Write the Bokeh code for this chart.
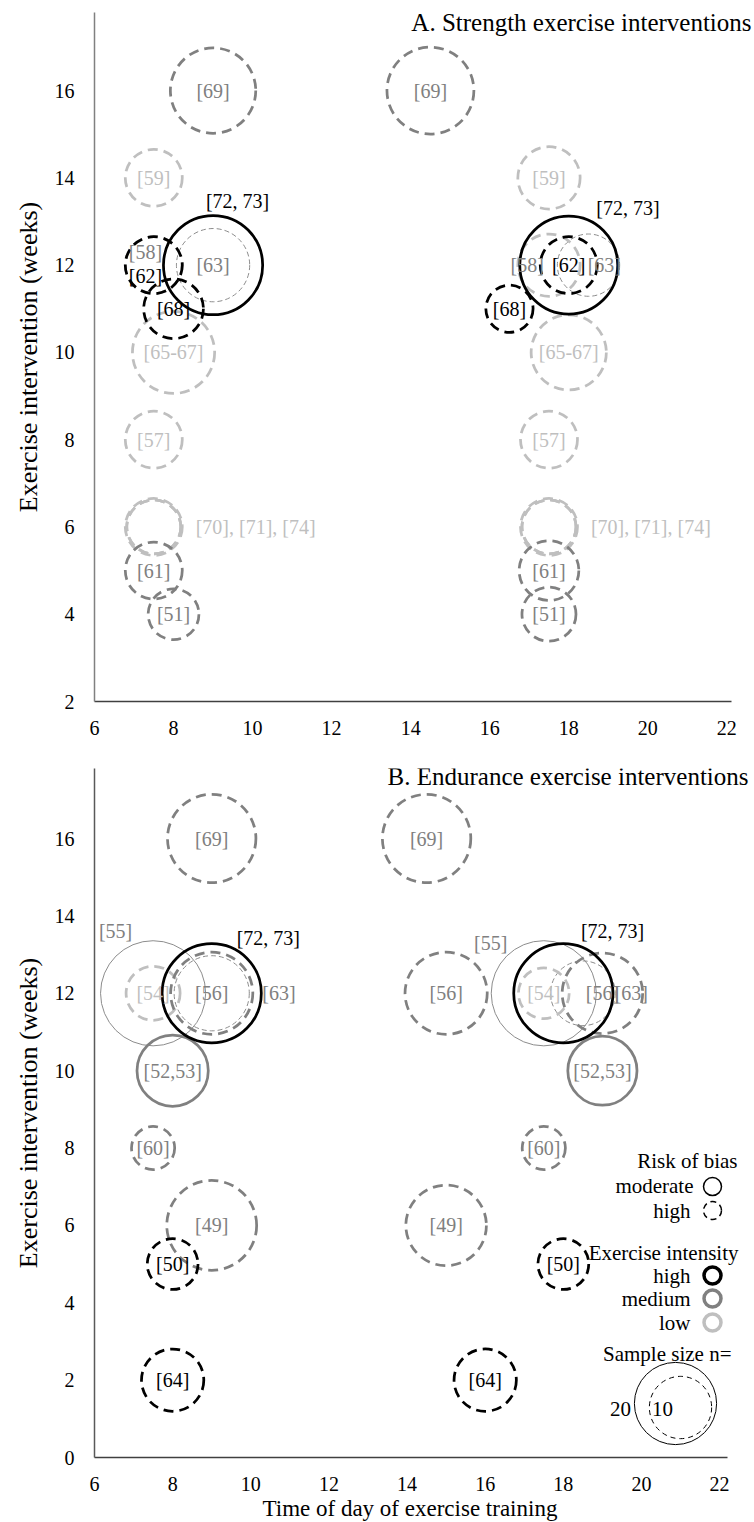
from bokeh.plotting import figure
from bokeh.models import ColumnDataSource, FixedTicker, Label, Range1d, Title
from bokeh.layouts import column
from bokeh.embed import file_html
from bokeh.resources import INLINE
from bokeh.core.properties import value

FONT = "Liberation Serif, Times New Roman, Tinos, serif"

# ---------------- data ----------------
X_TICKS = [6, 8, 10, 12, 14, 16, 18, 20, 22]
A_Y_TICKS = [2, 4, 6, 8, 10, 12, 14, 16]
B_Y_TICKS = [0, 2, 4, 6, 8, 10, 12, 14, 16]

# Panel A: strength exercise interventions (one entry per group)
A_ref = ["[69]", "[69]", "[59]", "[59]", "[58]", "[58]", "[62]", "[62]",
         "[63]", "[63]", "[72, 73]", "[72, 73]", "[68]", "[68]",
         "[65-67]", "[65-67]", "[57]", "[57]",
         "[70]", "[71]", "[74]", "[70]", "[71]", "[74]",
         "[61]", "[61]", "[51]", "[51]"]
A_time = [9, 14.5, 7.5, 17.5, 7.5, 17.5, 7.5, 18,
          9, 18.5, 9, 18, 8, 16.5,
          8, 18, 7.5, 17.5,
          7.5, 7.5, 7.5, 17.5, 17.5, 17.5,
          7.5, 17.5, 8, 17.5]
A_weeks = [16, 16, 14, 14, 12, 12, 12, 12,
           12, 12, 12, 12, 11, 11,
           10, 10, 8, 8,
           6, 6, 6, 6, 6, 6,
           5, 5, 4, 4]
A_n = [22, 23, 8, 10, 8, 10, 8, 8,
       15, 10, 32, 31, 9, 5,
       20, 16, 8, 8,
       7, 8, 7, 7, 8, 7,
       8, 9, 6, 7]
A_intensity = ["medium", "medium", "low", "low", "low", "low", "high", "high",
               "unknown", "unknown", "high", "high", "high", "high",
               "low", "low", "low", "low",
               "low", "low", "low", "low", "low", "low",
               "medium", "medium", "medium", "medium"]
A_bias = ["high", "high", "high", "high", "high", "high", "high", "high",
          "high", "high", "moderate", "moderate", "high", "high",
          "high", "high", "high", "high",
          "high", "high", "high", "high", "high", "high",
          "high", "high", "high", "high"]

A_lab_text = ["[69]", "[69]", "[59]", "[59]", "[72, 73]", "[72, 73]",
              "[58]", "[62]", "[63]", "[58]", "[62]", "[63]",
              "[68]", "[68]", "[65-67]", "[65-67]", "[57]", "[57]",
              "[61]", "[61]", "[51]", "[51]"]
A_lab_time = [9, 14.5, 7.5, 17.5, 9.62, 19.5,
              7.29, 7.29, 9, 16.95, 18, 18.9,
              8, 16.5, 8, 18, 7.5, 17.5,
              7.5, 17.5, 8, 17.5]
A_lab_weeks = [16, 16, 14, 14, 13.48, 13.32,
               12.29, 11.76, 12, 12, 12, 12,
               11, 11, 10, 10, 8, 8,
               5, 5, 4, 4]
A_lab_intensity = ["medium", "medium", "low", "low", "high", "high",
                   "medium", "high", "medium", "medium", "high", "medium",
                   "high", "high", "low", "low", "low", "low",
                   "medium", "medium", "medium", "medium"]
A_side_text = ["[70], [71], [74]", "[70], [71], [74]"]
A_side_time = [8.56, 18.56]
A_side_weeks = [6, 6]

# Panel B: endurance exercise interventions
B_ref = ["[69]", "[69]", "[55]", "[55]", "[54]", "[54]",
         "[72, 73]", "[72, 73]", "[56]", "[56]", "[56]", "[63]", "[63]",
         "[52,53]", "[52,53]", "[60]", "[60]", "[49]", "[49]",
         "[50]", "[50]", "[64]", "[64]"]
B_time = [9, 14.5, 7.5, 17.5, 7.5, 17.5,
          9, 18, 9, 15, 19, 9, 18.5,
          8, 19, 7.5, 17.5, 9, 15,
          8, 18, 8, 16]
B_weeks = [16, 16, 12, 12, 12, 12,
           12, 12, 12, 12, 12, 12, 12,
           10, 10, 8, 8, 6, 6,
           5, 5, 2, 2]
B_n = [24, 24, 37, 37, 7, 6,
       32, 32, 20, 20, 19, 16, 11,
       14, 13, 4, 4, 25, 19,
       6, 6, 10, 10]
B_intensity = ["medium", "medium", "unknown", "unknown", "low", "low",
               "high", "high", "medium", "medium", "medium", "unknown", "unknown",
               "medium", "medium", "medium", "medium", "medium", "medium",
               "high", "high", "high", "high"]
B_bias = ["high", "high", "moderate", "moderate", "high", "high",
          "moderate", "moderate", "high", "high", "high", "high", "high",
          "moderate", "moderate", "high", "high", "high", "high",
          "high", "high", "high", "high"]

B_lab_text = ["[69]", "[69]", "[55]", "[55]", "[54]", "[54]",
              "[72, 73]", "[72, 73]", "[56]", "[56]", "[56]", "[63]", "[63]",
              "[52,53]", "[52,53]", "[60]", "[60]", "[49]", "[49]",
              "[50]", "[50]", "[64]", "[64]"]
B_lab_time = [9, 14.5, 6.54, 16.14, 7.5, 17.5,
              10.45, 19.26, 9, 15, 19, 10.72, 19.74,
              8, 19, 7.5, 17.5, 9, 15,
              8, 18, 8, 16]
B_lab_weeks = [16, 16, 13.6, 13.31, 12, 12,
               13.44, 13.62, 12, 12, 12, 12, 12,
               10, 10, 8, 8, 6, 6,
               5, 5, 2, 2]
B_lab_intensity = ["medium", "medium", "medium", "medium", "low", "low",
                   "high", "high", "medium", "medium", "medium", "medium", "medium",
                   "medium", "medium", "medium", "medium", "medium", "medium",
                   "high", "high", "high", "high"]

LEGEND_SAMPLE_N = [20, 10]

# ---------------- styles ----------------
LINE_COLOR = {"high": "#000000", "medium": "#808080", "low": "#bfbfbf", "unknown": "#8c8c8c"}
TEXT_COLOR = {"high": "#000000", "medium": "#808080", "low": "#bfbfbf", "unknown": "#808080"}
ORDER = ["unknown", "low", "medium", "high"]


def radius_px(n):
    return 12.4 * n ** 0.4


def make_fig(height, x_axis_end, x_view_end, y_start, y_end, left, top, bottom,
             y_ticks, yaxis_color):
    p = figure(width=754, height=height, x_range=Range1d(6, x_view_end),
               y_range=Range1d(y_start, y_end), output_backend="svg",
               toolbar_location=None, min_border_left=left, min_border_right=0,
               min_border_top=top, min_border_bottom=bottom)
    p.outline_line_color = None
    p.grid.visible = False
    p.background_fill_color = "white"
    p.border_fill_color = "white"
    for ax in (p.xaxis[0], p.yaxis[0]):
        ax.major_tick_out = 0
        ax.major_tick_in = 0
        ax.minor_tick_out = 0
        ax.minor_tick_in = 0
        ax.major_label_text_font = FONT
        ax.major_label_text_font_size = "20px"
        ax.major_label_text_color = "#000000"
        ax.axis_label_text_font = FONT
        ax.axis_label_text_font_style = "normal"
        ax.axis_label_text_color = "#000000"
    p.xaxis.ticker = FixedTicker(ticks=X_TICKS)
    p.yaxis.ticker = FixedTicker(ticks=y_ticks)
    p.xaxis.bounds = (6, x_axis_end)
    p.xaxis.axis_line_color = "#404040"
    p.xaxis.axis_line_width = 1.5
    p.yaxis.axis_line_color = yaxis_color
    p.yaxis.axis_line_width = 1.5
    p.xaxis.major_label_standoff = 19
    p.yaxis.major_label_standoff = 20
    p.yaxis.axis_label = "Exercise intervention (weeks)"
    p.yaxis.axis_label_text_font_size = "26px"
    p.yaxis.axis_label_standoff = 9
    return p


def draw_bubbles(p, times, weeks, ns, intens, bias):
    for inten in ORDER:
        for b in ["moderate", "high"]:
            idx = [i for i in range(len(times)) if intens[i] == inten and bias[i] == b]
            if not idx:
                continue
            src = ColumnDataSource(dict(
                x=[times[i] for i in idx],
                y=[weeks[i] for i in idx],
                size=[2 * radius_px(ns[i]) for i in idx]))
            thin = inten == "unknown"
            if b == "moderate":
                dash = "solid"
            else:
                dash = "5 3" if thin else "10 6"
            p.scatter("x", "y", size="size", source=src, marker="circle",
                      fill_color=None, line_color=LINE_COLOR[inten],
                      line_width=1 if thin else 2.75, line_dash=dash)


def draw_labels(p, texts, xs, ys, intens, align="center"):
    src = ColumnDataSource(dict(x=xs, y=ys, text=texts,
                                color=[TEXT_COLOR[k] for k in intens]))
    p.text("x", "y", text="text", source=src, text_font=value(FONT),
           text_font_size=value("20px"), text_color="color",
           text_align=align, text_baseline="middle")


# ---------------- panel A ----------------
A_PX = 39.7
pA = make_fig(742, 22.12, 6 + (754 - 91) / A_PX, 2, 17.79, 91, 12, 41, A_Y_TICKS, "#808080")
draw_bubbles(pA, A_time, A_weeks, A_n, A_intensity, A_bias)
draw_labels(pA, A_lab_text, A_lab_time, A_lab_weeks, A_lab_intensity)
draw_labels(pA, A_side_text, A_side_time, A_side_weeks, ["low", "low"], align="left")


def ax_x(px):
    return 6 + (px - 91) / A_PX


def ax_y(py):
    return 2 + (701 - py) / 43.64


pA.add_layout(Label(x=ax_x(751), y=ax_y(22), text="A. Strength exercise interventions",
                    text_font=FONT, text_font_size="25px", text_color="#000000",
                    text_align="right", text_baseline="middle"))

# ---------------- panel B ----------------
B_PX = 39.07
pB = make_fig(780, 22.2, 6 + (754 - 94) / B_PX, 0, 17.81, 94, 26, 65, B_Y_TICKS, "#595959")
pB.add_layout(Title(text="Time of day of exercise training", align="left", offset=168,
                    standoff=0, text_font=FONT, text_font_size="23px",
                    text_font_style="normal", text_color="#000000"), "below")
draw_bubbles(pB, B_time, B_weeks, B_n, B_intensity, B_bias)
draw_labels(pB, B_lab_text, B_lab_time, B_lab_weeks, B_lab_intensity)


def bx(px):
    return 6 + (px - 94) / B_PX


def by(py):
    return (1457 - py) / 38.69


pB.add_layout(Label(x=bx(748), y=by(775.5), text="B. Endurance exercise interventions",
                    text_font=FONT, text_font_size="25px", text_color="#000000",
                    text_align="right", text_baseline="middle"))

# legend
leg_texts = [("Risk of bias", 737, 1160), ("moderate", 693, 1185), ("high", 690, 1210),
             ("Exercise intensity", 738, 1252), ("high", 690, 1275),
             ("medium", 690, 1298), ("low", 690, 1322), ("Sample size n=", 731, 1353)]
for t, px, py in leg_texts:
    pB.add_layout(Label(x=bx(px), y=by(py), text=t, text_font=FONT, text_font_size="21px",
                        text_color="#000000", text_align="right", text_baseline="middle"))

pB.scatter([bx(712)], [by(1186)], size=18, marker="circle", fill_color=None,
           line_color="#000000", line_width=1.5)
pB.scatter([bx(712)], [by(1210)], size=18, marker="circle", fill_color=None,
           line_color="#000000", line_width=1.5, line_dash="6 4")
for key, py in [("high", 1275), ("medium", 1298), ("low", 1322)]:
    pB.scatter([bx(712)], [by(py)], size=17, marker="circle", fill_color=None,
               line_color=LINE_COLOR[key], line_width=3.5)

pB.scatter([bx(675)], [by(1403)], size=2 * radius_px(LEGEND_SAMPLE_N[0]), marker="circle",
           fill_color=None, line_color="#000000", line_width=1)
pB.scatter([bx(680)], [by(1407)], size=2 * radius_px(LEGEND_SAMPLE_N[1]), marker="circle",
           fill_color=None, line_color="#000000", line_width=1, line_dash="5 4")
pB.add_layout(Label(x=bx(620), y=by(1408), text=str(LEGEND_SAMPLE_N[0]), text_font=FONT,
                    text_font_size="21px", text_color="#000000", text_align="center",
                    text_baseline="middle"))
pB.add_layout(Label(x=bx(662), y=by(1408), text=str(LEGEND_SAMPLE_N[1]), text_font=FONT,
                    text_font_size="21px", text_color="#000000", text_align="center",
                    text_baseline="middle"))

layout = column(pA, pB, spacing=0)
open("out.html", "w").write(file_html(layout, INLINE))
